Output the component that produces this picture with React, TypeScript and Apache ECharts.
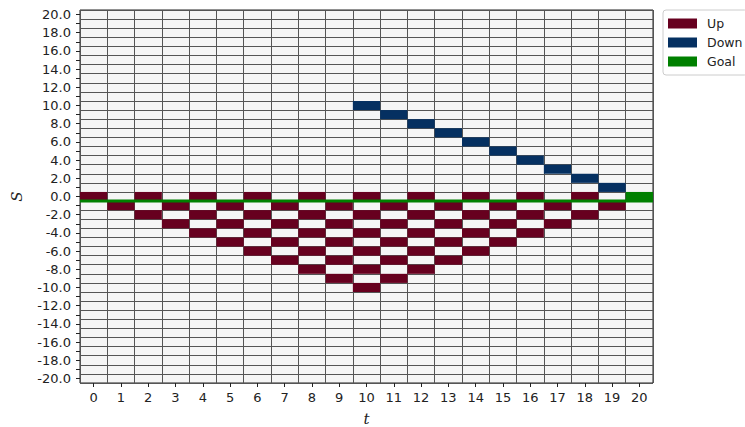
import React, { useEffect, useRef } from "react";
import * as echarts from "echarts";

const tValues: number[] = Array.from({ length: 21 }, (_, i) => i);
const sValues: number[] = Array.from({ length: 41 }, (_, i) => i - 20);

// Up cells: for each t (0..19), the S values coloured "Up"
const upCells: number[][] = [
  [0],
  [-1],
  [0, -2],
  [-1, -3],
  [0, -2, -4],
  [-1, -3, -5],
  [0, -2, -4, -6],
  [-1, -3, -5, -7],
  [0, -2, -4, -6, -8],
  [-1, -3, -5, -7, -9],
  [0, -2, -4, -6, -8, -10],
  [-1, -3, -5, -7, -9],
  [0, -2, -4, -6, -8],
  [-1, -3, -5, -7],
  [0, -2, -4, -6],
  [-1, -3, -5],
  [0, -2, -4],
  [-1, -3],
  [0, -2],
  [-1],
];
const downT: number[] = [10, 11, 12, 13, 14, 15, 16, 17, 18, 19];
const downS: number[] = [10, 9, 8, 7, 6, 5, 4, 3, 2, 1];
const goalT: number[] = [20];
const goalS: number[] = [0];
const goalLineS = -0.5;

const UP = "#67001f";
const DOWN = "#053061";
const GOAL = "#008000";

function renderCell(params: any, api: any) {
  const xi = api.value(0);
  const yi = api.value(1);
  const p = api.coord([xi, yi]);
  const s = api.size([1, 1]);
  return {
    type: "rect",
    shape: { x: p[0] - s[0] / 2, y: p[1] - s[1] / 2, width: s[0], height: s[1] },
    style: { fill: api.visual("color") },
  };
}

export default function App() {
  const ref = useRef<HTMLDivElement>(null);
  useEffect(() => {
    if (!ref.current) return;
    const chart = echarts.init(ref.current, null, { renderer: "svg" });
    const sIndex = (s: number) => s + 20;
    const upData: number[][] = [];
    upCells.forEach((arr, t) => arr.forEach((s) => upData.push([t, sIndex(s)])));
    const downData = downT.map((t, i) => [t, sIndex(downS[i])]);
    const goalData = goalT.map((t, i) => [t, sIndex(goalS[i])]);
    const font = "DejaVu Sans";
    chart.setOption({
      animation: false,
      grid: {
        left: 80,
        top: 10,
        width: 573,
        height: 373,
        containLabel: false,
        outerBoundsMode: "none",
        show: true,
        backgroundColor: "#f5f5f5",
        borderColor: "#222",
        borderWidth: 1,
      },
      legend: {
        data: ["Up", "Down", "Goal"],
        orient: "vertical",
        left: 663,
        top: 10,
        padding: [7, 5, 7, 5],
        itemGap: 6,
        itemWidth: 29,
        itemHeight: 10,
        icon: "rect",
        borderColor: "#ccc",
        borderWidth: 1,
        borderRadius: 3,
        backgroundColor: "#fff",
        textStyle: { fontFamily: font, fontSize: 12.5, color: "#222", padding: [0, 0, 0, 5] },
      },
      xAxis: [
        {
          type: "category",
          position: "bottom",
          data: tValues.map(String),
          name: "t",
          nameLocation: "middle",
          nameGap: 28,
          nameTextStyle: { fontFamily: "DejaVu Serif", fontStyle: "italic", fontSize: 15, color: "#222" },
          axisLine: { show: false, onZero: false },
          axisTick: { show: true, alignWithLabel: true, interval: 0, length: 4, lineStyle: { color: "#222" } },
          axisLabel: { interval: 0, fontFamily: font, fontSize: 13, color: "#222", margin: 8 },
          splitLine: { show: true, interval: 0, lineStyle: { color: "#555", width: 1 } },
        },
        { type: "value", min: -0.5, max: 20.5, show: false, axisLine: { onZero: false } },
      ],
      yAxis: [
        {
          type: "category",
          position: "left",
          data: sValues.map(String),
          name: "S",
          nameLocation: "middle",
          nameGap: 56,
          nameRotate: 90,
          nameTextStyle: { fontFamily: "DejaVu Serif", fontStyle: "italic", fontSize: 15, color: "#222" },
          axisLine: { show: false, onZero: false },
          axisTick: { show: true, alignWithLabel: true, interval: 0, length: 4, lineStyle: { color: "#222" } },
          axisLabel: {
            interval: 1,
            fontFamily: font,
            fontSize: 13,
            color: "#222",
            margin: 9,
            formatter: (v: string) => Number(v).toFixed(1),
          },
          splitLine: { show: true, interval: 0, lineStyle: { color: "#555", width: 1 } },
        },
        { type: "value", min: -20.5, max: 20.5, show: false, axisLine: { onZero: false } },
      ],
      series: [
        {
          name: "Up",
          type: "custom",
          renderItem: renderCell,
          itemStyle: { color: UP },
          data: upData,
          encode: { x: 0, y: 1 },
          z: 2,
        },
        {
          name: "Down",
          type: "custom",
          renderItem: renderCell,
          itemStyle: { color: DOWN },
          data: downData,
          encode: { x: 0, y: 1 },
          z: 2,
        },
        {
          name: "Goal",
          type: "custom",
          renderItem: renderCell,
          itemStyle: { color: GOAL },
          data: goalData,
          encode: { x: 0, y: 1 },
          z: 2,
        },
        {
          name: "GoalLine",
          type: "line",
          xAxisIndex: 1,
          yAxisIndex: 1,
          data: [
            [-0.5, goalLineS],
            [20.5, goalLineS],
          ],
          symbol: "none",
          lineStyle: { color: GOAL, width: 3 },
          itemStyle: { color: GOAL },
          z: 3,
        },
      ],
    });
    return () => chart.dispose();
  }, []);
  return (
    <div
      ref={ref}
      style={{ position: "fixed", left: 0, top: 0, width: 745, height: 427, background: "#fff" }}
    />
  );
}
